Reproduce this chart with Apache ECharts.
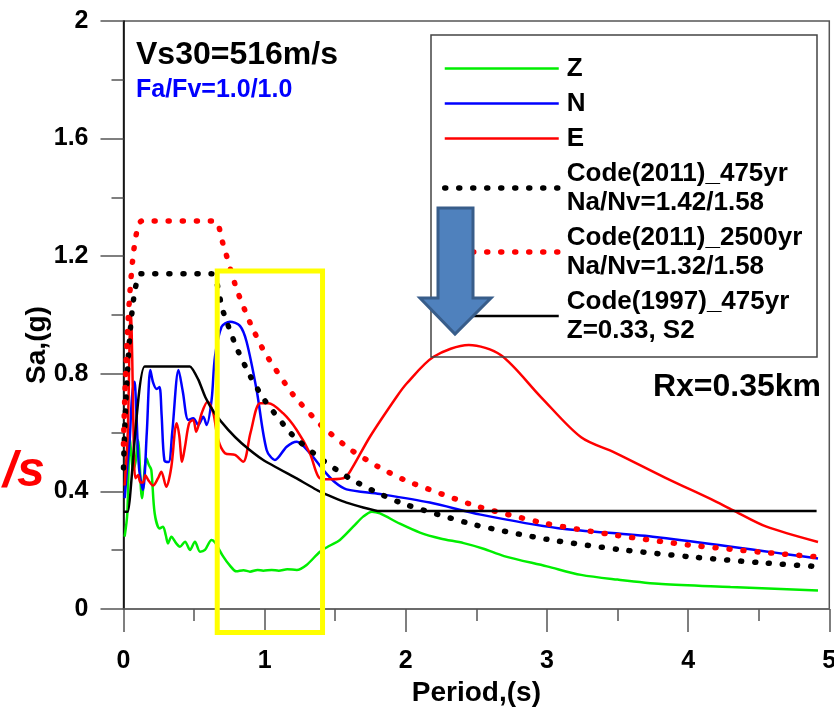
<!DOCTYPE html>
<html>
<head>
<meta charset="utf-8">
<script src="https://cdn.jsdelivr.net/npm/echarts@6/dist/echarts.min.js"></script>
<style>
html,body{margin:0;padding:0;background:#fff;}
#chart{width:834px;height:707px;}
</style>
</head>
<body>
<div id="chart"></div>
<script>
// ---- data: [Period (s), Sa (g)] ----
const seriesNames = ['Z', 'N', 'E',
  'Code(2011)_475yr\nNa/Nv=1.42/1.58',
  'Code(2011)_2500yr\nNa/Nv=1.32/1.58',
  'Code(1997)_475yr\nZ=0.33, S2'];

const zData = [[0.008,0.246],[0.027,0.325],[0.044,0.586],[0.056,0.52],[0.067,0.473],[0.085,0.5],[0.103,0.575],[0.131,0.377],[0.162,0.513],[0.18,0.49],[0.197,0.473],[0.221,0.325],[0.256,0.274],[0.28,0.28],[0.30,0.25],[0.315,0.223],[0.339,0.246],[0.374,0.223],[0.40,0.212],[0.436,0.229],[0.471,0.201],[0.506,0.229],[0.542,0.195],[0.577,0.201],[0.624,0.235],[0.65,0.225],[0.707,0.178],[0.75,0.15],[0.80,0.128],[0.85,0.132],[0.896,0.127],[0.95,0.133],[0.99,0.13],[1.05,0.133],[1.1,0.13],[1.16,0.135],[1.227,0.133],[1.297,0.15],[1.392,0.195],[1.46,0.215],[1.533,0.235],[1.627,0.28],[1.70,0.315],[1.76,0.331],[1.817,0.325],[1.958,0.29],[2.1,0.26],[2.244,0.24],[2.41,0.224],[2.55,0.205],[2.696,0.18],[3.0,0.145],[3.242,0.116],[3.5,0.1],[3.813,0.085],[4.3,0.075],[4.92,0.063]];

const nData = [[0.008,0.377],[0.03,0.5],[0.044,0.575],[0.06,0.72],[0.078,0.773],[0.09,0.68],[0.11,0.48],[0.138,0.405],[0.165,0.6],[0.19,0.813],[0.21,0.77],[0.235,0.748],[0.255,0.755],[0.27,0.66],[0.29,0.505],[0.32,0.50],[0.345,0.6],[0.39,0.813],[0.42,0.74],[0.459,0.643],[0.494,0.649],[0.53,0.626],[0.565,0.654],[0.589,0.626],[0.624,0.711],[0.648,0.858],[0.695,0.96],[0.754,0.977],[0.825,0.963],[0.872,0.909],[0.943,0.745],[1.014,0.541],[1.073,0.507],[1.156,0.552],[1.227,0.569],[1.32,0.53],[1.415,0.473],[1.5,0.43],[1.58,0.407],[1.817,0.391],[2.17,0.362],[2.53,0.321],[3.08,0.275],[3.75,0.246],[4.92,0.172]];

const eData = [[0.008,0.42],[0.03,0.6],[0.045,0.95],[0.052,1.01],[0.062,0.85],[0.075,0.5],[0.085,0.445],[0.103,0.456],[0.12,0.43],[0.138,0.43],[0.155,0.455],[0.174,0.44],[0.209,0.42],[0.245,0.445],[0.268,0.467],[0.303,0.416],[0.339,0.484],[0.365,0.61],[0.377,0.632],[0.395,0.59],[0.415,0.501],[0.435,0.55],[0.465,0.632],[0.494,0.643],[0.515,0.603],[0.554,0.666],[0.595,0.705],[0.636,0.666],[0.671,0.575],[0.719,0.53],[0.79,0.524],[0.848,0.501],[0.90,0.60],[0.967,0.70],[1.026,0.70],[1.13,0.666],[1.227,0.609],[1.32,0.53],[1.38,0.45],[1.427,0.441],[1.557,0.445],[1.604,0.467],[1.746,0.586],[1.935,0.722],[2.006,0.767],[2.197,0.858],[2.446,0.898],[2.672,0.864],[2.957,0.721],[3.242,0.584],[3.48,0.532],[3.836,0.447],[4.19,0.367],[4.33,0.333],[4.55,0.281],[4.92,0.228]];

const code2011_475 = [[0,0.48],[0.125,1.14],[0.625,1.14],[0.7,1.02],[0.8,0.89],[0.9,0.79],[1.0,0.71],[1.2,0.59],[1.4,0.51],[1.6,0.445],[1.8,0.395],[2.0,0.355],[2.5,0.285],[3.0,0.237],[3.5,0.203],[4.0,0.178],[4.5,0.158],[4.9,0.145]];

const code2011_2500 = [[0,0.56],[0.13,1.32],[0.65,1.32],[0.7,1.25],[0.8,1.09],[0.9,0.97],[1.0,0.873],[1.2,0.73],[1.4,0.625],[1.6,0.545],[1.8,0.485],[2.0,0.437],[2.5,0.35],[3.0,0.29],[3.5,0.25],[4.0,0.218],[4.5,0.194],[4.9,0.178]];

const code1997_475 = [[0,0.331],[0.03,0.331],[0.15,0.825],[0.47,0.825],[0.53,0.78],[0.58,0.72],[0.64,0.67],[0.742,0.609],[0.837,0.564],[0.99,0.507],[1.227,0.444],[1.392,0.399],[1.58,0.362],[1.817,0.333],[4.91,0.333]];

const yTicks = [0, 0.4, 0.8, 1.2, 1.6, 2];
const xTicks = [0, 1, 2, 3, 4, 5];
// highlighted window (yellow box), in data units
const boxPeriod = [0.664, 1.41];
const boxSa = [-0.08, 1.15];

const FONT = '"Liberation Sans", Arial, Helvetica, sans-serif';

const chart = echarts.init(document.getElementById('chart'), null, {renderer: 'canvas'});

const dotted = {type: [1, 13], width: 5.5, cap: 'round'};

const option = {
  animation: false,
  backgroundColor: '#fff',
  grid: {left: 123.5, right: 4.7, top: 21, bottom: 98, containLabel: false, outerBoundsMode: 'none',
         show: true, borderColor: '#555', borderWidth: 1.5, backgroundColor: 'transparent'},
  xAxis: {
    type: 'value', min: xTicks[0], max: xTicks[xTicks.length - 1], interval: 1,
    name: 'Period,(s)', nameLocation: 'middle', nameGap: 48,
    nameTextStyle: {fontFamily: FONT, fontWeight: 'bold', fontSize: 28, color: '#000'},
    axisLine: {show: true, lineStyle: {color: '#666', width: 1.5}},
    axisTick: {show: true, inside: false, length: 23, lineStyle: {color: '#555', width: 1.5}},
    minorTick: {show: true, splitNumber: 2, length: 12, lineStyle: {color: '#555', width: 1.5}},
    splitLine: {show: false}, minorSplitLine: {show: false},
    axisLabel: {margin: 40, fontFamily: FONT, fontWeight: 'bold', fontSize: 25, color: '#000'}
  },
  yAxis: {
    type: 'value', min: yTicks[0], max: yTicks[yTicks.length - 1], interval: 0.4,
    name: 'Sa,(g)', nameLocation: 'middle', nameGap: 72, nameRotate: 90, nameMoveOverlap: false,
    nameTextStyle: {fontFamily: FONT, fontWeight: 'bold', fontSize: 28, color: '#000', padding: [0, 60, 0, 0]},
    axisLine: {show: true, lineStyle: {color: '#000', width: 1.5}},
    axisTick: {show: true, inside: false, length: 23, lineStyle: {color: '#555', width: 1.5}},
    minorTick: {show: true, splitNumber: 2, length: 12, lineStyle: {color: '#555', width: 1.5}},
    splitLine: {show: false}, minorSplitLine: {show: false},
    axisLabel: {margin: 35, fontFamily: FONT, fontWeight: 'bold', fontSize: 25, color: '#000'}
  },
  legend: {
    orient: 'vertical', left: 442, top: 54, padding: 0,
    itemWidth: 114, itemHeight: 14, itemGap: 6,
    data: seriesNames,
    itemStyle: {opacity: 0, borderWidth: 0},
    lineStyle: {width: 'inherit', type: 'inherit', opacity: 1},
    textStyle: {fontFamily: FONT, fontWeight: 'bold', fontSize: 26, lineHeight: 29, color: '#000', padding: [0, 0, 0, 3]}
  },
  series: [
    {name: seriesNames[0], type: 'line', data: zData, showSymbol: false, symbol: 'none', symbolSize: 0, smooth: 0.3,
     lineStyle: {color: '#00EE00', width: 2.5}, itemStyle: {color: '#00EE00'}},
    {name: seriesNames[1], type: 'line', data: nData, showSymbol: false, symbol: 'none', symbolSize: 0, smooth: 0.3,
     lineStyle: {color: '#0000FF', width: 2.5}, itemStyle: {color: '#0000FF'}},
    {name: seriesNames[2], type: 'line', data: eData, showSymbol: false, symbol: 'none', symbolSize: 0, smooth: 0.3,
     lineStyle: {color: '#FF0000', width: 2.5}, itemStyle: {color: '#FF0000'}},
    {name: seriesNames[3], type: 'line', data: code2011_475, showSymbol: false, symbol: 'none', symbolSize: 0, smooth: 0.2,
     lineStyle: Object.assign({color: '#000'}, dotted), itemStyle: {color: '#000'}},
    {name: seriesNames[4], type: 'line', data: code2011_2500, showSymbol: false, symbol: 'none', symbolSize: 0, smooth: 0.2,
     lineStyle: Object.assign({color: '#FF0000'}, dotted), itemStyle: {color: '#FF0000'}},
    {name: seriesNames[5], type: 'line', data: code1997_475, showSymbol: false, symbol: 'none', symbolSize: 0, smooth: 0.15,
     lineStyle: {color: '#000', width: 2.5}, itemStyle: {color: '#000'}}
  ],
  graphic: [
    {id: 'legendBox', type: 'rect', z: 50, silent: true,
     shape: {x: 431, y: 35, width: 386, height: 322},
     style: {fill: 'none', stroke: '#444', lineWidth: 1.5}},
    {id: 'vs30', type: 'text', z: 60, style: {text: 'Vs30=516m/s', x: 136, y: 55, verticalAlign: 'middle',
      font: 'bold 32px ' + FONT, fill: '#000'}},
    {id: 'fafv', type: 'text', z: 60, style: {text: 'Fa/Fv=1.0/1.0', x: 136, y: 90, verticalAlign: 'middle',
      font: 'bold 25px ' + FONT, fill: '#0000FF'}},
    {id: 'rx', type: 'text', z: 60, style: {text: 'Rx=0.35km', x: 821, y: 387, align: 'right', verticalAlign: 'middle',
      font: 'bold 32px ' + FONT, fill: '#000'}},
    {id: 'slashS', type: 'text', z: 60, style: {text: '/s', x: 3, y: 472, verticalAlign: 'middle',
      font: 'italic bold 50px ' + FONT, fill: '#FF0000'}},
    {id: 'arrow', type: 'polygon', z: 80, silent: true,
     shape: {points: [[438,208],[473,208],[473,298],[491,298],[455,334],[420,298],[438,298]]},
     style: {fill: '#4F81BD', stroke: '#385D8A', lineWidth: 3}}
  ]
};
chart.setOption(option);

// yellow highlight box positioned through the chart's own scales
const p1 = chart.convertToPixel({gridIndex: 0}, [boxPeriod[0], boxSa[1]]);
const p2 = chart.convertToPixel({gridIndex: 0}, [boxPeriod[1], boxSa[0]]);
chart.setOption({graphic: [{id: 'yellowBox', type: 'rect', z: 90, silent: true,
  shape: {x: p1[0], y: p1[1], width: p2[0] - p1[0], height: p2[1] - p1[1]},
  style: {fill: 'none', stroke: '#FFFF00', lineWidth: 5}}]});
</script>
</body>
</html>
